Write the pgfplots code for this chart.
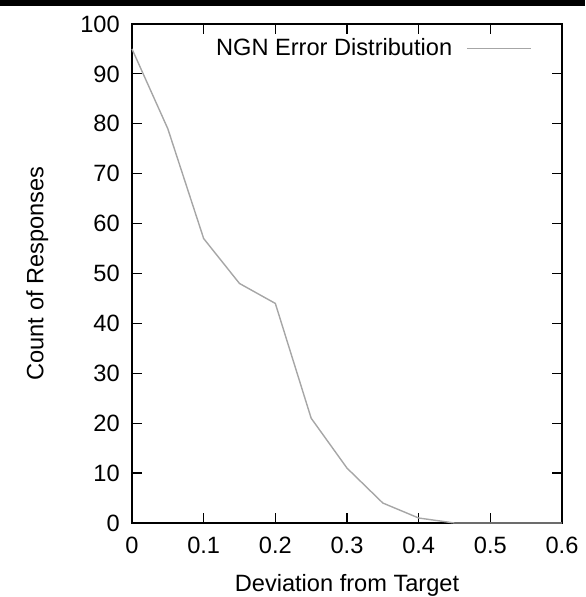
\documentclass[border=0pt]{standalone}
\usepackage{pgfplots}
\pgfplotsset{compat=1.18}
\usepackage{fontspec}
\setmainfont{Liberation Sans}
\begin{document}
\fontsize{11.8}{14}\selectfont
\begin{tikzpicture}
\begin{axis}[
  at={(0,0)}, anchor=south west,
  scale only axis,
  width=215pt, height=249.5pt,
  xmin=0, xmax=0.6, ymin=0, ymax=100,
  xtick={0,0.1,...,0.6},
  xticklabels={0,0.1,0.2,0.3,0.4,0.5,0.6},
  ytick={0,10,...,100},
  tick align=inside,
  major tick length=5pt,
  tick style={black, line width=0.6pt},
  axis line style={black, line width=0.8pt},
  /pgf/number format/assume math mode=true,
  tick label style={font=\fontsize{11.8}{14}\selectfont},
  label style={font=\fontsize{11.8}{14}\selectfont},
  xlabel={Deviation from Target},
  ylabel={Count of Responses},
  xticklabel style={yshift=-3pt},
  yticklabel style={xshift=-2pt},
  ylabel style={yshift=8pt},
  xlabel style={yshift=-2pt},
  legend plot pos=right,
  legend style={draw=none, fill=none, at={(1,1)}, anchor=north east,
    xshift=-12pt, yshift=-3pt, column sep=5pt,
    font=\fontsize{11.8}{14}\selectfont},
  legend cell align=right,
  clip=false,
]
\addplot[color=black!35, line width=0.7pt,
  legend image code/.code={\draw[color=black!35, line width=0.7pt] (0pt,0pt) -- (32pt,0pt);}]
  coordinates {
  (0,95) (0.05,79) (0.1,57) (0.15,48) (0.2,44) (0.25,21) (0.3,11)
  (0.35,4) (0.4,1) (0.45,0) (0.5,0) (0.55,0) (0.6,0)
};
\addlegendentry{NGN Error Distribution}
\end{axis}
\pgfresetboundingbox
\useasboundingbox (-66pt,-37pt) rectangle (226.5pt,261.5pt);
\fill[black] (-66pt,258.5pt) rectangle (226.5pt,261.5pt);
\end{tikzpicture}
\end{document}
